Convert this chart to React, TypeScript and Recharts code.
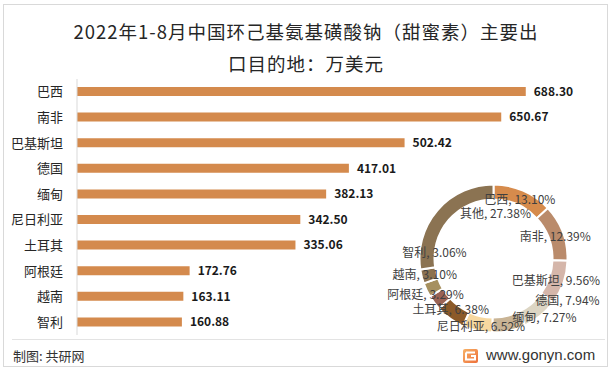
import React from 'react';
import { BarChart, Bar, XAxis, YAxis, LabelList, PieChart, Pie, Cell } from 'recharts';

const barCountries = ['巴西', '南非', '巴基斯坦', '德国', '缅甸', '尼日利亚', '土耳其', '阿根廷', '越南', '智利'];
const barValues = [688.3, 650.67, 502.42, 417.01, 382.13, 342.5, 335.06, 172.76, 163.11, 160.88];

const pieNames = ['巴西', '南非', '巴基斯坦', '德国', '缅甸', '尼日利亚', '土耳其', '阿根廷', '越南', '智利', '其他'];
const pieShares = [13.1, 12.39, 9.56, 7.94, 7.27, 6.52, 6.38, 3.29, 3.1, 3.06, 27.38];

const titleLines = ['2022年1-8月中国环己基氨基磺酸钠（甜蜜素）主要出', '口目的地：万美元'];
const sourceText = '制图: 共研网';
const siteText = 'www.gonyn.com';

const pieColors = ['#D68B4C', '#BA8B6B', '#D5B6AA', '#DCD5C3', '#C9B495', '#F6D8A0', '#8C5A28', '#9A6354', '#A6905F', '#8C7250', '#8B7352'];
const labelNudge = [[0, 0.5], [0, 0], [0, 0], [32, -10], [37, -7], [2, 3], [-4, -3.5], [-15, -4], [-9, -13], [5, -23], [52, -2.5]];

const FONT = '"Microsoft YaHei","Noto Sans CJK SC",sans-serif';
const W = 614;
const H = 371;

const barData = barCountries.map((name, i) => ({ name, value: barValues[i] }));
const pieData = pieNames.map((name, i) => ({ name, value: pieShares[i] }));

const renderPieLabel = (props: any) => {
  const { cx, cy, midAngle, index, name, value } = props;
  const RAD = Math.PI / 180;
  const r = 66;
  const x = cx + r * Math.cos(-midAngle * RAD) + labelNudge[index][0];
  const y = cy + r * Math.sin(-midAngle * RAD) + labelNudge[index][1];
  return (
    <text
      key={`pl-${index}`}
      x={x}
      y={y}
      textAnchor="middle"
      dominantBaseline="central"
      fontSize={12}
      fill="#404040"
      fontFamily={FONT}
    >
      {`${name}, ${Number(value).toFixed(2)}%`}
    </text>
  );
};

export default function App() {
  const titleStyle: React.CSSProperties = {
    position: 'absolute',
    left: 0,
    width: 612,
    textAlign: 'center',
    fontSize: 18.5,
    lineHeight: '24px',
    color: '#262626',
    letterSpacing: 1,
    whiteSpace: 'nowrap',
  };
  return (
    <div style={{ position: 'absolute', left: 0, top: 0, width: W, height: H, background: '#fff', fontFamily: FONT, overflow: 'hidden' }}>
      <div style={{ position: 'absolute', left: 3, top: 4, width: 605, height: 363, border: '1px solid #d9d9d9', boxSizing: 'border-box' }} />
      <div style={{ ...titleStyle, top: 19 }}>{titleLines[0]}</div>
      <div style={{ ...titleStyle, top: 51 }}>{titleLines[1]}</div>
      <div style={{ position: 'absolute', left: 0, top: 0 }}>
        <BarChart width={W} height={H} data={barData} layout="vertical" margin={{ top: 79, right: 80.6, bottom: 36, left: 0 }}>
          <XAxis type="number" domain={[0, 700]} hide />
          <YAxis
            type="category"
            dataKey="name"
            width={77}
            axisLine={{ stroke: '#d9d9d9' }}
            tickLine={false}
            tickSize={0}
            tickMargin={14}
            tick={{ fontSize: 13, fill: '#262626', fontFamily: FONT }}
            interval={0}
          />
          <Bar dataKey="value" fill="#D48A4D" barSize={9} isAnimationActive={false}>
            <LabelList
              dataKey="value"
              position="right"
              offset={8}
              formatter={(v: any) => Number(v).toFixed(2)}
              fill="#1a1a1a"
              fontSize={12}
              fontWeight="bold"
              fontFamily={FONT}
            />
          </Bar>
        </BarChart>
      </div>
      <div style={{ position: 'absolute', left: 0, top: 0 }}>
        <PieChart width={W} height={H} margin={{ top: 0, right: 0, bottom: 0, left: 0 }}>
          <Pie
            data={pieData}
            dataKey="value"
            nameKey="name"
            cx={493.5}
            cy={258.5}
            innerRadius={59}
            outerRadius={74}
            startAngle={90}
            endAngle={-270}
            stroke="#ffffff"
            strokeWidth={2}
            labelLine={false}
            label={renderPieLabel}
            isAnimationActive={false}
          >
            {pieData.map((d, i) => (
              <Cell key={d.name} fill={pieColors[i]} />
            ))}
          </Pie>
        </PieChart>
      </div>
      <div style={{ position: 'absolute', left: 12, top: 339, width: 593, height: 1, background: '#e3e3e3' }} />
      <div style={{ position: 'absolute', left: 13, top: 347, fontSize: 13, lineHeight: '18px', color: '#333' }}>{sourceText}</div>
      <svg style={{ position: 'absolute', left: 463, top: 349 }} width={15} height={14}>
        <defs>
          <linearGradient id="lg" x1="0" y1="0" x2="1" y2="1">
            <stop offset="0" stopColor="#F7B267" />
            <stop offset="1" stopColor="#EE6F3A" />
          </linearGradient>
        </defs>
        <rect x={0} y={0} width={15} height={14} rx={2} fill="url(#lg)" />
        <path d="M3 3.5 H12 M3 3.5 V10.5 H12 V7 H8" stroke="#fff" strokeWidth={2} fill="none" />
      </svg>
      <div style={{ position: 'absolute', left: 486, top: 345, fontSize: 15, lineHeight: '20px', color: '#333', fontFamily: '"Liberation Sans",Arial,sans-serif' }}>{siteText}</div>
    </div>
  );
}
